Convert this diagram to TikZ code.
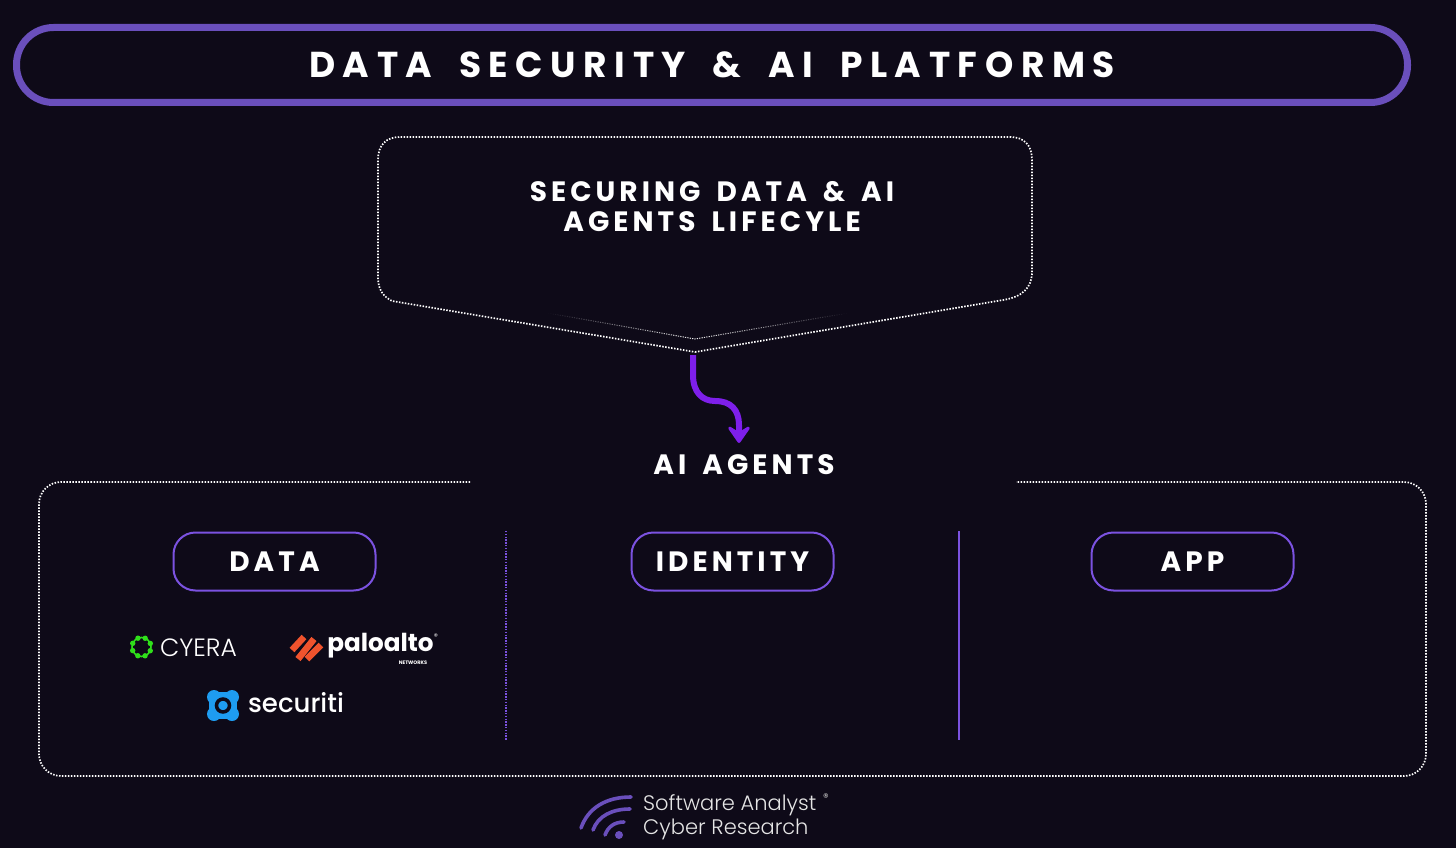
\documentclass[tikz,border=0pt]{standalone}
\usepackage{fontspec}
\setmainfont{Poppins}
\newfontfamily\titlefont[LetterSpace=21,WordSpace=1.77]{Poppins}
\newfontfamily\labelfont[LetterSpace=14.5,WordSpace=1.6]{Poppins}
\newfontfamily\lightfont[UprightFont=* Light]{Poppins}
\newfontfamily\mediumfont[UprightFont=* Medium]{Poppins}
\usetikzlibrary{arrows.meta,fadings}
\definecolor{pagebg}{HTML}{0E0A18}
\definecolor{pillpurple}{HTML}{6A4FBC}
\definecolor{tabpurple}{HTML}{7B52E0}
\definecolor{arrowpurple}{HTML}{7E1FEA}
\definecolor{cyeragreen}{HTML}{2FE01A}
\definecolor{paloorange}{HTML}{F0532D}
\definecolor{securitiblue}{HTML}{1E9CF0}
\tikzset{
	dotline/.style={white, line width=1.7pt, dash pattern=on 1.5pt off 1.5pt},
	tabpill/.style={draw=tabpurple, line width=2pt, rounded corners=22pt, minimum width=202pt,%
		minimum height=58pt, text=white, font=\labelfont\fontsize{28}{30}\selectfont\bfseries},
	headtext/.style={text=white, align=center, font=\labelfont\fontsize{28}{30}\selectfont\bfseries},
	wifiarc/.style={draw=pillpurple, line width=3.6pt, line cap=round},
}
\begin{document}
\begin{tikzpicture}[x=1pt,y=-1pt]
	\useasboundingbox (0,0) rectangle (1456,848);
	\fill[pagebg] (0,0) rectangle (1456,848);
	% title
	\node[draw=pillpurple, line width=7pt, rounded corners=37pt, minimum width=1391pt, minimum height=75pt,%
		text=white, font=\titlefont\fontsize{36}{38}\selectfont\bfseries] (title) at (712,65) {DATA SECURITY \& AI PLATFORMS};
	% lifecycle box
	\coordinate (tip) at (695,352);
	\draw[dotline] (tip) -- (1003,300) .. controls (1022,297) and (1032,288) .. (1032,272)%
		-- (1032,160) .. controls (1032,145) and (1024,137) .. (1010,137)%
		-- (400,137) .. controls (386,137) and (378,145) .. (378,160)%
		-- (378,278) .. controls (378,290) and (384,297) .. (392,301) -- cycle;
	\node[headtext] (lifecycle) at (712,207) {SECURING DATA \& AI\\AGENTS LIFECYLE};
	\coordinate (fold) at (695,339);
	\draw[white, line width=1pt, dash pattern=on 1.2pt off 1.2pt, path fading=north] (548,313) -- (fold) -- (848,313);
	% arrow
	\node[headtext] (agents) at (744,464.5) {AI AGENTS};
	\coordinate (arrowend) at (739,443);
	\draw[arrowpurple, line width=6pt, -{Stealth[length=21pt,width=29pt,inset=9pt,round]}] (693,355) -- (693,375)%
		.. controls (693,392) and (702,401) .. (715,401) .. controls (731,401) and (739,410) .. (739,425) -- (arrowend);
	% bottom box
	\coordinate (gapleft) at (470,482);
	\coordinate (gapright) at (1016,482);
	\draw[dotline, rounded corners=22pt] (gapleft) -- (39,482) -- (39,776) -- (1426,776) -- (1426,482) -- (gapright);
	% tabs
	\node[tabpill] (data) at (274.5,561.5) {DATA};
	\node[tabpill] (identity) at (732.5,561.5) {IDENTITY};
	\node[tabpill] (app) at (1192.5,561.5) {APP};
	\coordinate (sepa) at (506,531);
	\coordinate (sepb) at (506,740);
	\coordinate (sepc) at (959,531);
	\coordinate (sepd) at (959,740);
	\draw[tabpurple, line width=1.4pt, dash pattern=on 1.4pt off 1.4pt] (sepa) -- (sepb);
	\draw[tabpurple, line width=1.5pt] (sepc) -- (sepd);
	% cyera
	\draw[cyeragreen, line width=1.6pt] (141.5,647) circle (9.5pt);
	\foreach \a in {22,67,...,337} {
		\fill[cyeragreen] (141.5,647) ++(\a:9.5pt) circle (2.7pt);
	}
	\node[text=white, font=\lightfont\fontsize{25}{27}\selectfont, inner sep=0pt] (cyera) at (198.5,648) {CYERA};
	% paloalto
	\foreach \xa/\ya/\xb/\yb in {292/650/304/637, 298/659/314/639, 307/659/321/645} {
		\draw[paloorange, line width=6.5pt] (\xa,\ya) -- (\xb,\yb);
	}
	\node[text=white, font=\fontsize{24.7}{27}\selectfont\bfseries, inner sep=0pt] (paloalto) at (380.5,646) {paloalto};
	\node[text=white, font=\fontsize{5}{6}\selectfont\bfseries, inner sep=0pt] (networks) at (413,662.5) {NETWORKS};
	\node[text=white, font=\fontsize{8}{9}\selectfont, inner sep=0pt] (palomark) at (436,637) {\textregistered};
	% securiti
	\foreach \xa/\ya in {214/697, 232/697, 214/714, 232/714} {
		\fill[securitiblue] (\xa,\ya) circle (7pt);
	}
	\fill[securitiblue] (209,697) rectangle (237,714);
	\fill[securitiblue] (214,692) rectangle (232,719);
	\draw[pagebg, line width=3.5pt] (223,705.5) circle (6.5pt);
	\node[text=white, font=\mediumfont\fontsize{26}{28}\selectfont, inner sep=0pt] (securiti) at (296,703) {securiti};
	% footer logo
	\fill[pillpurple] (619,835) circle (4pt);
	\draw[wifiarc] (581,828) .. controls (588,808) and (606,797) .. (631,797);
	\draw[wifiarc] (593,830) .. controls (598,816) and (612,809) .. (630,809);
	\draw[wifiarc] (605,835) .. controls (608,827) and (614,822) .. (624,822);
	\node[text=white!90!black, font=\lightfont\fontsize{21}{24}\selectfont, inner sep=0pt, anchor=west] (analyst) at (643,805) {Software Analyst};
	\node[text=white!90!black, font=\lightfont\fontsize{21}{24}\selectfont, inner sep=0pt, anchor=west] (research) at (643,829) {Cyber Research};
	\node[text=white!80!black, font=\fontsize{11}{12}\selectfont, inner sep=0pt] (footmark) at (826,798) {\textregistered};
\end{tikzpicture}
\end{document}
